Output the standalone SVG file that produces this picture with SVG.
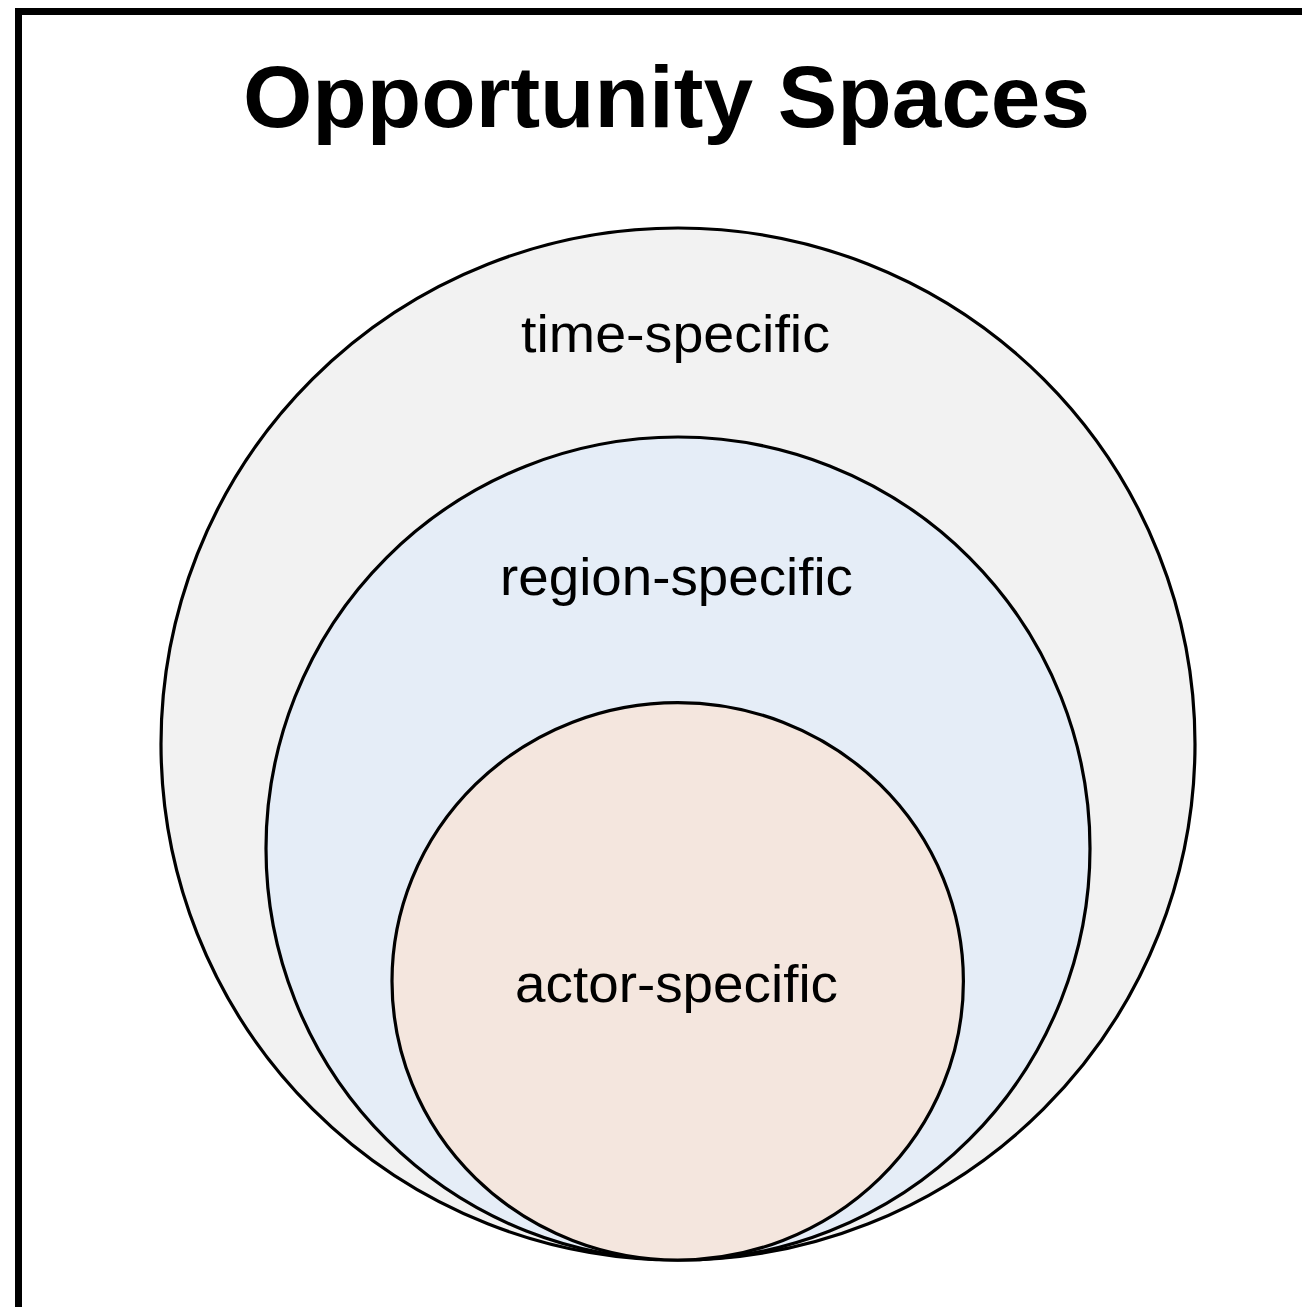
<svg xmlns="http://www.w3.org/2000/svg" width="1302" height="1307" viewBox="0 0 1302 1307">
<style>
.c{stroke:#000;stroke-width:3.2}
.lbl{font-family:"Liberation Sans",Arial,sans-serif;font-size:51px;fill:#000;text-anchor:middle}
.title{font-family:"Liberation Sans",Arial,sans-serif;font-size:88px;font-weight:bold;fill:#000;text-anchor:middle}
</style>
<rect x="0" y="0" width="1302" height="1307" fill="#fff"/>
<rect id="frame" x="18.5" y="11.5" width="1300" height="1310" fill="none" stroke="#000" stroke-width="7"/>
<text class="title" x="666.5" y="127" textLength="847" lengthAdjust="spacingAndGlyphs">Opportunity Spaces</text>
<g id="time">
<ellipse class="c" cx="678" cy="744" rx="517" ry="516" fill="#f2f2f2"/>
<text class="lbl" x="675.5" y="352" textLength="309" lengthAdjust="spacingAndGlyphs">time-specific</text>
</g>
<g id="region">
<ellipse class="c" cx="678" cy="848.5" rx="412" ry="411.5" fill="#e5edf7"/>
<text class="lbl" x="676.5" y="595" textLength="353" lengthAdjust="spacingAndGlyphs">region-specific</text>
</g>
<g id="actor">
<ellipse class="c" cx="677.7" cy="981.3" rx="285.7" ry="278.7" fill="#f4e6de"/>
<text class="lbl" x="676.5" y="1002" textLength="323" lengthAdjust="spacingAndGlyphs">actor-specific</text>
</g>
<g id="connectors"/>
</svg>
